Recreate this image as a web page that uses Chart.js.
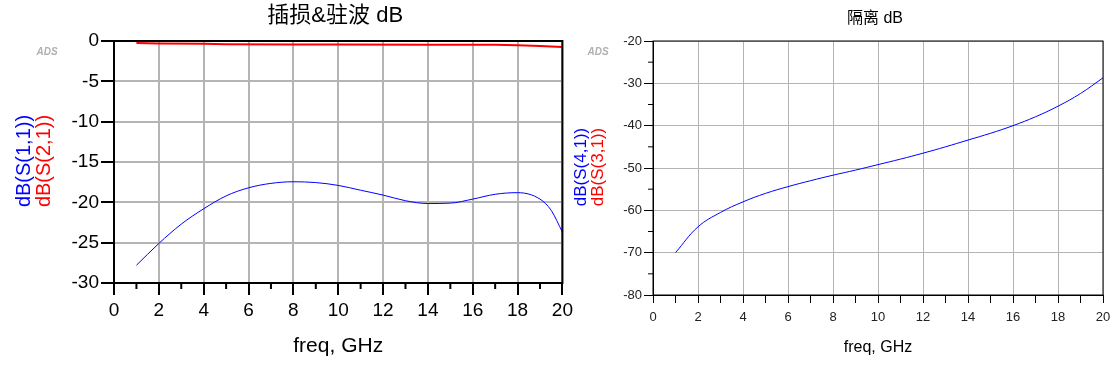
<!DOCTYPE html>
<html>
<head>
<meta charset="utf-8">
<script src="https://cdn.jsdelivr.net/npm/chart.js@4"></script>
<style>
  body { margin: 0; background: #fff; width: 1119px; height: 369px; overflow: hidden; position: relative; }
  .box { position: absolute; top: 0; height: 369px; }
  #left-box { left: 0; width: 577px; }
  #right-box { left: 570px; width: 549px; }
</style>
</head>
<body>
<div class="box" id="left-box"><canvas id="chart-s11"></canvas></div>
<div class="box" id="right-box"><canvas id="chart-s41"></canvas></div>
<script>
// 插损&驻波 (left)
const freqS11 = [1, 2, 3, 4, 5, 6, 7, 8, 9, 10, 11, 12, 13, 14, 15, 16, 17, 18, 19, 19.5, 20];
const dbS11 = [-27.8, -25.1, -22.7, -20.8, -19.2, -18.2, -17.65, -17.45, -17.55, -17.9, -18.5, -19.1, -19.8, -20.15, -20.1, -19.6, -19.0, -18.8, -19.6, -21.0, -23.7];
const freqS21 = [1, 2, 4, 5, 8, 10, 14, 17, 18, 19, 20];
const dbS21 = [-0.25, -0.3, -0.35, -0.4, -0.42, -0.43, -0.45, -0.48, -0.52, -0.62, -0.75];

// 隔离 (right)
const freqS41 = [1, 2, 3, 4, 5, 6, 7, 8, 9, 10, 11, 12, 13, 14, 15, 16, 17, 18, 19, 20];
const dbS41 = [-70.0, -63.9, -60.5, -58.0, -56.0, -54.4, -53.0, -51.7, -50.5, -49.2, -47.9, -46.5, -45.0, -43.4, -41.8, -40.0, -37.9, -35.4, -32.4, -28.7];

// ticks
const freqTicks = [0, 2, 4, 6, 8, 10, 12, 14, 16, 18, 20];
const freqMinor = [1, 3, 5, 7, 9, 11, 13, 15, 17, 19];
const leftYTicks = [0, -5, -10, -15, -20, -25, -30];
const rightYTicks = [-20, -30, -40, -50, -60, -70, -80];
const rightYMinor = [-25, -35, -45, -55, -65, -75];

const FONT = "'Liberation Sans', Arial, 'Noto Sans CJK SC', sans-serif";

function pts(xs, ys) {
    return xs.map((f, i) => ({ x: f, y: ys[i] }));
}

// frame, minor ticks, titles, rotated trace names, watermark
function decor(o) {
    return {
        id: 'decor',
        afterDraw(chart) {
            const ctx = chart.ctx;
            const a = chart.chartArea;
            const x = chart.scales.x, y = chart.scales.y;
            ctx.save();
            ctx.strokeStyle = '#000';
            ctx.lineWidth = o.frame;
            ctx.strokeRect(a.left, a.top, a.right - a.left, a.bottom - a.top);

            ctx.lineWidth = o.tickWidth;
            ctx.beginPath();
            o.minorX.forEach(v => {
                const px = x.getPixelForValue(v);
                ctx.moveTo(px, a.bottom);
                ctx.lineTo(px, a.bottom + o.minorXLen);
            });
            o.minorY.forEach(v => {
                const py = y.getPixelForValue(v);
                ctx.moveTo(a.left - o.minorYLen, py);
                ctx.lineTo(a.left, py);
            });
            ctx.stroke();

            ctx.textAlign = 'center';
            ctx.textBaseline = 'middle';
            ctx.fillStyle = '#000';
            ctx.font = o.titleSize + 'px ' + FONT;
            ctx.fillText(o.title, (a.left + a.right) / 2 - 3, o.titleY);

            ctx.fillStyle = '#b0b0b0';
            ctx.font = 'italic bold 10px ' + FONT;
            ctx.fillText('ADS', o.adsX, o.adsY);

            ctx.font = o.nameSize + 'px ' + FONT;
            o.names.forEach(n => {
                ctx.save();
                ctx.translate(n.x, o.nameY);
                ctx.rotate(-Math.PI / 2);
                ctx.fillStyle = n.color;
                ctx.fillText(n.text, 0, 0);
                ctx.restore();
            });
            ctx.restore();
        }
    };
}

window.onload = function () {

    let lossChart = new Chart(
        document.getElementById('chart-s11'), {
            type: 'line',
            data: {
                datasets: [
                    {
                        label: 'dB(S(1,1))',
                        data: pts(freqS11, dbS11),
                        borderColor: '#0000ff',
                        borderWidth: 1,
                        pointRadius: 0,
                        cubicInterpolationMode: 'monotone'
                    },
                    {
                        label: 'dB(S(2,1))',
                        data: pts(freqS21, dbS21),
                        borderColor: '#ff0000',
                        borderWidth: 2,
                        pointRadius: 0
                    }
                ]
            },
            options: {
                responsive: true,
                maintainAspectRatio: false,
                animation: false,
                layout: { padding: { left: 0, top: 41, right: 12, bottom: 4 } },
                plugins: {
                    legend: { display: false },
                    title: { display: false },
                    tooltip: { enabled: false }
                },
                scales: {
                    x: {
                        type: 'linear', min: 0, max: 20,
                        afterBuildTicks: s => { s.ticks = freqTicks.map(v => ({ value: v })); },
                        afterFit: s => { s.height = 82; },
                        grid: { color: '#b4b4b4', lineWidth: 2, tickColor: '#000', tickWidth: 2, tickLength: 12 },
                        border: { color: '#000', width: 2 },
                        ticks: { color: '#000', font: { family: FONT, size: 19 }, padding: 4, maxRotation: 0, autoSkip: false },
                        title: { display: true, text: 'freq, GHz', color: '#000', font: { family: FONT, size: 21 }, padding: { top: 0, bottom: 6 } }
                    },
                    y: {
                        type: 'linear', min: -30, max: 0,
                        afterBuildTicks: s => { s.ticks = leftYTicks.map(v => ({ value: v })); },
                        afterFit: s => { s.width = 114; },
                        grid: { color: '#b4b4b4', lineWidth: 2, tickColor: '#000', tickWidth: 2, tickLength: 13 },
                        border: { color: '#000', width: 2 },
                        ticks: { color: '#000', font: { family: FONT, size: 19 }, padding: 2, autoSkip: false }
                    }
                }
            },
            plugins: [decor({
                frame: 2, tickWidth: 2,
                minorX: freqMinor, minorXLen: 6,
                minorY: [], minorYLen: 0,
                title: '插损&驻波 dB', titleSize: 22, titleY: 16,
                adsX: 47, adsY: 52,
                nameSize: 20, nameY: 161,
                names: [
                    { text: 'dB(S(1,1))', color: '#0000ff', x: 24 },
                    { text: 'dB(S(2,1))', color: '#ff0000', x: 44 }
                ]
            })]
        }
    );

    let isoChart = new Chart(
        document.getElementById('chart-s41'), {
            type: 'line',
            data: {
                datasets: [
                    {
                        label: 'dB(S(4,1))',
                        data: pts(freqS41, dbS41),
                        borderColor: '#0000ff',
                        borderWidth: 1,
                        pointRadius: 0,
                        tension: 0.4
                    }
                ]
            },
            options: {
                responsive: true,
                maintainAspectRatio: false,
                animation: false,
                layout: { padding: { left: 0, top: 41, right: 16, bottom: 4 } },
                plugins: {
                    legend: { display: false },
                    title: { display: false },
                    tooltip: { enabled: false }
                },
                scales: {
                    x: {
                        type: 'linear', min: 0, max: 20,
                        afterBuildTicks: s => { s.ticks = freqTicks.map(v => ({ value: v })); },
                        afterFit: s => { s.height = 70; },
                        grid: { color: '#b4b4b4', lineWidth: 1, tickColor: '#000', tickWidth: 1, tickLength: 8 },
                        border: { color: '#000', width: 1 },
                        ticks: { color: '#222', font: { family: FONT, size: 13 }, padding: 7, maxRotation: 0, autoSkip: false },
                        title: { display: true, text: 'freq, GHz', color: '#000', font: { family: FONT, size: 16 }, padding: { top: 0, bottom: 8 } }
                    },
                    y: {
                        type: 'linear', min: -80, max: -20,
                        afterBuildTicks: s => { s.ticks = rightYTicks.map(v => ({ value: v })); },
                        afterFit: s => { s.width = 83; },
                        grid: { color: '#b4b4b4', lineWidth: 1, tickColor: '#000', tickWidth: 1, tickLength: 9 },
                        border: { color: '#000', width: 1 },
                        ticks: { color: '#222', font: { family: FONT, size: 13 }, padding: 2, autoSkip: false }
                    }
                }
            },
            plugins: [decor({
                frame: 1, tickWidth: 1,
                minorX: freqMinor, minorXLen: 8,
                minorY: rightYMinor, minorYLen: 5,
                title: '隔离 dB', titleSize: 16, titleY: 19,
                adsX: 28, adsY: 52,
                nameSize: 17, nameY: 167,
                names: [
                    { text: 'dB(S(4,1))', color: '#0000ff', x: 11 },
                    { text: 'dB(S(3,1))', color: '#ff0000', x: 28 }
                ]
            })]
        }
    );
}
</script>
</body>
</html>
